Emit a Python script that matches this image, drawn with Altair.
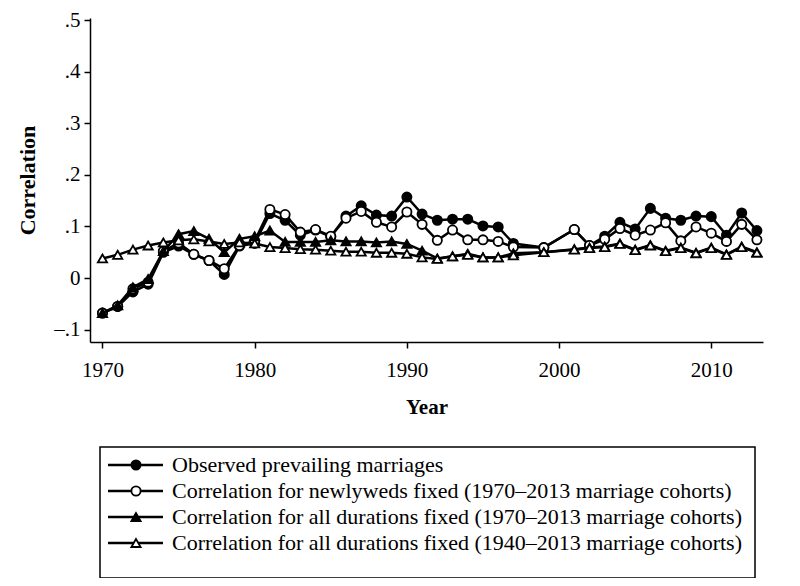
import altair as alt
import pandas as pd

years = list(range(1970, 1998)) + [1999] + list(range(2001, 2014))

observed = [-0.068, -0.055, -0.027, -0.012, 0.050, 0.062, 0.046, 0.034, 0.007, 0.062,
            0.067, 0.125, 0.112, 0.083, 0.093, 0.080, 0.120, 0.140, 0.122, 0.120,
            0.157, 0.124, 0.112, 0.114, 0.114, 0.101, 0.099, 0.067,
            0.059,
            0.094, 0.063, 0.081, 0.108, 0.095, 0.135, 0.116, 0.112, 0.120, 0.119,
            0.083, 0.126, 0.092]

newlyweds = [-0.068, -0.055, -0.021, -0.008, 0.052, 0.068, 0.046, 0.034, 0.018, 0.063,
             0.072, 0.133, 0.123, 0.089, 0.094, 0.081, 0.116, 0.129, 0.108, 0.099,
             0.128, 0.104, 0.073, 0.093, 0.074, 0.074, 0.071, 0.060,
             0.059,
             0.094, 0.063, 0.075, 0.096, 0.083, 0.093, 0.107, 0.072, 0.099, 0.087,
             0.071, 0.104, 0.074]

durations_1970 = [-0.068, -0.053, -0.018, -0.002, 0.052, 0.085, 0.091, 0.076, 0.050, 0.076,
                  0.081, 0.092, 0.070, 0.070, 0.070, 0.073, 0.071, 0.071, 0.069, 0.071,
                  0.066, 0.053, 0.038, 0.042, 0.047, 0.040, 0.040, 0.048,
                  0.050,
                  0.056, 0.059, 0.061, 0.067, 0.055, 0.064, 0.053, 0.059, 0.049, 0.059,
                  0.046, 0.061, 0.050]

durations_1940 = [0.038, 0.045, 0.055, 0.063, 0.069, 0.073, 0.075, 0.071, 0.066, 0.069,
                  0.067, 0.060, 0.058, 0.056, 0.055, 0.053, 0.051, 0.051, 0.049, 0.049,
                  0.047, 0.040, 0.037, 0.042, 0.045, 0.040, 0.040, 0.044,
                  0.050,
                  0.055, 0.058, 0.060, 0.066, 0.054, 0.063, 0.052, 0.058, 0.048, 0.058,
                  0.045, 0.060, 0.049]

labels = [
    "Observed prevailing marriages",
    "Correlation for newlyweds fixed (1970\u20132013 marriage cohorts)",
    "Correlation for all durations fixed (1970\u20132013 marriage cohorts)",
    "Correlation for all durations fixed (1940\u20132013 marriage cohorts)",
]

x_ticks = [1970, 1980, 1990, 2000, 2010]
y_ticks = [-0.1, 0, 0.1, 0.2, 0.3, 0.4, 0.5]

rows = []
for name, vals in zip(labels, [observed, newlyweds, durations_1970, durations_1940]):
    for yr, v in zip(years, vals):
        rows.append({"Year": yr, "value": v, "series": name})
df = pd.DataFrame(rows)

FONT = "Liberation Serif"
shape_scale = alt.Scale(domain=labels, range=["circle", "circle", "triangle-up", "triangle-up"])
fill_scale = alt.Scale(domain=labels, range=["black", "white", "black", "white"])
size_scale = alt.Scale(domain=labels, range=[85, 85, 115, 115])

x_axis = alt.Axis(values=x_ticks, format="d", title="Year", grid=False,
                  labelFont=FONT, labelFontSize=21, labelColor="black", labelPadding=11,
                  titleFont=FONT, titleFontSize=21, titleFontWeight="bold", titleColor="black",
                  titlePadding=16, tickSize=6, tickColor="black", tickWidth=1.5,
                  domainColor="black", domainWidth=1.5)
y_axis = alt.Axis(values=y_ticks, grid=False, title="Correlation",
                  labelExpr="datum.value == 0 ? '0' : (datum.value < 0 ? '\u2013' : '') + '.' + format(abs(datum.value) * 10, '.0f')",
                  labelFont=FONT, labelFontSize=21, labelColor="black", labelPadding=4,
                  titleFont=FONT, titleFontSize=22, titleFontWeight="bold", titleColor="black",
                  titlePadding=14, tickSize=6, tickColor="black", tickWidth=1.5,
                  domainColor="black", domainWidth=1.5)

xs = alt.Scale(domain=[1969.18, 2013.4], nice=False, zero=False)
ys = alt.Scale(domain=[-0.124, 0.504], nice=False, zero=False)

base = alt.Chart(df)
main_layers = []
for name in labels:
    sub = base.transform_filter(alt.datum.series == name)
    line = sub.mark_line(color="black", strokeWidth=2.5).encode(
        x=alt.X("Year:Q", scale=xs, axis=x_axis),
        y=alt.Y("value:Q", scale=ys, axis=y_axis),
    )
    pts = sub.mark_point(stroke="black", strokeWidth=1.8, opacity=1, filled=False).encode(
        x=alt.X("Year:Q", scale=xs, axis=x_axis),
        y=alt.Y("value:Q", scale=ys, axis=y_axis),
        shape=alt.Shape("series:N", scale=shape_scale, legend=None),
        fill=alt.Fill("series:N", scale=fill_scale, legend=None),
        size=alt.Size("series:N", scale=size_scale, legend=None),
    )
    main_layers += [line, pts]
main = alt.layer(*main_layers)

leg_df = pd.DataFrame({"series": labels})
leg_y = alt.Y("series:N", sort=labels, axis=None,
              scale=alt.Scale(type="point", range=[447, 525], padding=0))
leg_base = alt.Chart(leg_df)
leg_lines = leg_base.mark_rule(color="black", strokeWidth=2.5).encode(
    x=alt.value(18), x2=alt.value(73), y=leg_y)
leg_pts = leg_base.mark_point(stroke="black", strokeWidth=1.8, opacity=1, filled=False).encode(
    x=alt.value(46), y=leg_y,
    shape=alt.Shape("series:N", scale=shape_scale, legend=None),
    fill=alt.Fill("series:N", scale=fill_scale, legend=None),
    size=alt.Size("series:N", scale=size_scale, legend=None),
)
leg_text = leg_base.mark_text(align="left", baseline="middle", font=FONT, fontSize=22,
                              color="black").encode(x=alt.value(82), y=leg_y, text="series:N")
box = alt.Chart(pd.DataFrame({"k": [0]})).mark_rect(fillOpacity=0, stroke="black", strokeWidth=1.5).encode(
    x=alt.value(10), x2=alt.value(665), y=alt.value(429), y2=alt.value(560))
legend = alt.layer(box, leg_lines, leg_pts, leg_text)

chart = alt.layer(main, legend).resolve_scale(y="independent").properties(
    width=673, height=324,
    background="white",
    autosize=alt.AutoSizeParams(type="none"),
    padding={"left": 82, "top": 10, "right": 20, "bottom": 236},
).configure_view(stroke=None)

chart.save("out.html", embed_options={"renderer": "svg", "actions": False})
